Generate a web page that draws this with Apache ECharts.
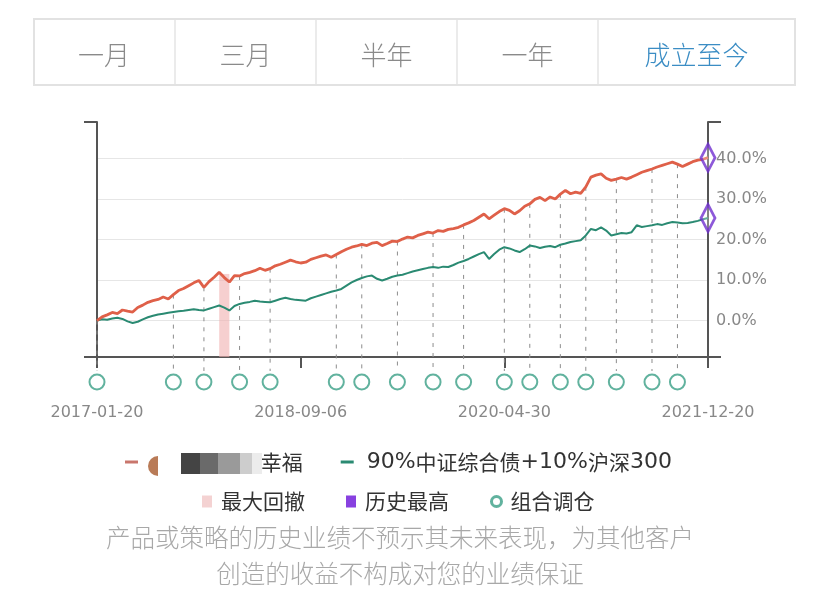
<!DOCTYPE html>
<html><head><meta charset="utf-8">
<script src="https://cdn.jsdelivr.net/npm/echarts@6/dist/echarts.min.js"></script>
<style>html,body{margin:0;padding:0;background:#fff}#c{width:828px;height:614px}</style>
</head><body><div id="c"></div><script>
// ---------- data ----------
const dates = [
'2017-01-20','2017-02-05','2017-02-20','2017-03-05','2017-03-20','2017-04-05','2017-04-20','2017-05-05','2017-05-20','2017-06-05',
'2017-06-20','2017-07-05','2017-07-20','2017-08-05','2017-08-20','2017-09-05','2017-09-20','2017-10-05','2017-10-20','2017-11-05',
'2017-11-20','2017-12-05','2017-12-20','2018-01-05','2018-01-20','2018-02-05','2018-02-20','2018-03-05','2018-03-20','2018-04-05',
'2018-04-20','2018-05-05','2018-05-20','2018-06-05','2018-06-20','2018-07-05','2018-07-20','2018-08-05','2018-08-20','2018-08-28',
'2018-09-06','2018-09-20','2018-10-05','2018-10-20','2018-11-05','2018-11-20','2018-12-05','2018-12-20','2019-01-05','2019-01-20',
'2019-02-05','2019-02-20','2019-03-05','2019-03-20','2019-04-05','2019-04-20','2019-05-05','2019-05-20','2019-06-05','2019-06-20',
'2019-07-05','2019-07-20','2019-08-05','2019-08-20','2019-09-05','2019-09-20','2019-10-05','2019-10-20','2019-11-05','2019-11-20',
'2019-12-05','2019-12-20','2020-01-05','2020-01-20','2020-02-05','2020-02-20','2020-03-05','2020-03-20','2020-04-05','2020-04-20',
'2020-04-30','2020-05-15','2020-06-01','2020-06-15','2020-07-01','2020-07-15','2020-08-01','2020-08-15','2020-09-01','2020-09-15',
'2020-10-01','2020-10-15','2020-11-01','2020-11-15','2020-12-01','2020-12-15','2021-01-04','2021-01-15','2021-02-01','2021-02-15',
'2021-03-01','2021-03-15','2021-04-01','2021-04-15','2021-05-06','2021-05-15','2021-06-01','2021-06-15','2021-07-01','2021-07-15',
'2021-08-02','2021-08-15','2021-09-01','2021-09-15','2021-10-08','2021-10-15','2021-11-01','2021-11-15','2021-12-01','2021-12-10',
'2021-12-20'];
const fundValues = [
0.0,0.9,1.4,2.0,1.7,2.6,2.3,2.1,3.2,3.8,
4.5,4.9,5.2,5.8,5.3,6.4,7.4,7.9,8.6,9.3,
9.9,8.2,9.6,10.7,11.9,10.6,9.5,11.1,11.0,11.6,
11.9,12.3,12.9,12.4,12.8,13.5,13.9,14.4,14.9,14.5,
14.2,14.4,15.1,15.5,15.9,16.2,15.6,16.3,17.0,17.6,
18.1,18.4,18.8,18.5,19.1,19.3,18.5,19.0,19.6,19.5,
20.1,20.6,20.4,21.0,21.4,21.8,21.6,22.2,22.0,22.5,
22.7,23.0,23.6,24.1,24.7,25.5,26.3,25.1,26.0,26.9,
27.6,27.2,26.3,27.1,28.2,28.8,29.9,30.4,29.6,30.5,
30.0,31.2,32.1,31.3,31.7,31.4,33.0,35.4,35.9,36.2,
35.1,34.6,34.9,35.3,34.9,35.4,36.0,36.6,37.0,37.4,
37.9,38.3,38.7,39.1,38.6,38.0,38.6,39.2,39.6,39.8,
40.2];
const benchValues = [
0.0,0.3,0.2,0.5,0.7,0.4,-0.2,-0.6,-0.3,0.3,
0.8,1.2,1.5,1.7,1.9,2.1,2.3,2.4,2.6,2.8,
2.6,2.5,2.9,3.3,3.7,3.2,2.5,3.6,4.1,4.4,
4.6,4.9,4.7,4.6,4.5,4.9,5.3,5.6,5.3,5.1,
5.0,4.9,5.5,5.9,6.3,6.7,7.1,7.4,7.8,8.6,
9.4,10.0,10.5,10.9,11.1,10.3,9.9,10.3,10.8,11.1,
11.3,11.7,12.1,12.4,12.7,13.0,13.2,13.0,13.3,13.2,
13.7,14.3,14.7,15.2,15.8,16.4,16.9,15.2,16.4,17.5,
18.1,17.8,17.3,16.9,17.6,18.5,18.3,17.9,18.2,18.4,
18.1,18.7,19.0,19.4,19.6,19.8,21.0,22.6,22.3,23.0,
22.2,21.0,21.3,21.6,21.5,21.8,23.5,23.1,23.3,23.5,
23.8,23.6,24.0,24.3,24.2,24.0,24.1,24.3,24.6,25.0,
25.3];
const rebalanceIdx = [0,15,21,28,34,47,52,59,66,72,80,85,91,96,102,109,114];
const labelIdx = [0,40,80,120];
const drawdownStart = 24, drawdownEnd = 26;
const FUND_NAME = '\u3000\u3000\u3000\u3000\u3000 幸福';
const BENCH_NAME = '90%中证综合债+10%沪深300';
const tabs = ['一月','三月','半年','一年','成立至今'];
const disclaimer = ['产品或策略的历史业绩不预示其未来表现，为其他客户','创造的收益不构成对您的业绩保证'];

// ---------- chart ----------
const FONT = '"Noto Sans CJK SC","Noto Sans",sans-serif';
const NUMFONT = '"DejaVu Sans",sans-serif';
const yMin = -9, yMax = 49;
const AX = '#555';
const chart = echarts.init(document.getElementById('c'));

const tabX = [33,175,316,457,598,795];
const graphics = [];
graphics.push({type:'rect',shape:{x:34,y:19,width:761,height:66},style:{fill:'#fff',stroke:'#e2e2e2',lineWidth:2},z:1});
for (let k=1;k<5;k++) graphics.push({type:'line',shape:{x1:tabX[k],y1:20,x2:tabX[k],y2:84},style:{stroke:'#e4e4e4',lineWidth:1.5},z:2});
tabs.forEach((t,k)=>{
  graphics.push({type:'text',x:(tabX[k]+tabX[k+1])/2,y:55,style:{text:t,fontSize:26,fontFamily:FONT,fontWeight:300,fill:k===4?'#3b8dc4':'#8a8a8a',align:'center',verticalAlign:'middle'},z:3});
});
disclaimer.forEach((t,k)=>{
  graphics.push({type:'text',x:400,y:538+k*36,style:{text:t,fontSize:24.5,fontFamily:FONT,fontWeight:300,fill:'#a8a8a8',align:'center',verticalAlign:'middle'},z:3});
});
// redaction blocks in the legend
graphics.push({type:'sector',shape:{cx:158,cy:466,r:10,startAngle:Math.PI/2,endAngle:Math.PI*1.5},style:{fill:'#b97b57'},z:5});
[['#444',181,19],['#6a6a6a',200,18],['#9a9a9a',218,22],['#cdcdcd',240,12],['#ececec',252,10]].forEach(b=>{
  graphics.push({type:'rect',shape:{x:b[1],y:453,width:b[2],height:21},style:{fill:b[0]},z:5});
});

const legendText = {fontSize:21,color:'#333',fontFamily:FONT,
  rich:{d:{fontSize:22,color:'#333',fontFamily:NUMFONT}}};
const option = {
  animation:false,
  backgroundColor:'#fff',
  textStyle:{fontFamily:FONT},
  graphic:graphics,
  grid:[{left:97,right:120,top:122,bottom:257},{left:97,right:120,top:372,height:20}],
  xAxis:[
    {type:'category',data:dates,boundaryGap:false,gridIndex:0,
     axisLine:{onZero:false,lineStyle:{color:AX,width:2}},
     axisTick:{interval:(i)=>labelIdx.includes(i),length:11,lineStyle:{color:AX,width:2}},
     axisLabel:{interval:(i)=>labelIdx.includes(i),margin:48,fontSize:16,color:'#888',fontFamily:NUMFONT},
     splitLine:{show:false}},
    {type:'category',data:dates,boundaryGap:false,gridIndex:1,show:false}
  ],
  yAxis:[
    {type:'value',gridIndex:0,position:'left',min:yMin,max:yMax,interval:yMax-yMin,
     axisLine:{show:true,lineStyle:{color:AX,width:2}},axisTick:{show:true,length:13,lineStyle:{color:AX,width:2}},
     axisLabel:{show:false},splitLine:{show:false}},
    {type:'value',gridIndex:0,position:'right',min:yMin,max:yMax,splitNumber:5,
     axisLine:{show:false},axisTick:{show:false},
     axisLabel:{showMinLabel:false,showMaxLabel:false,formatter:(v)=>v.toFixed(1)+'%',fontSize:16,color:'#888',margin:8,fontFamily:NUMFONT},
     splitLine:{show:true,showMinLine:false,showMaxLine:false,lineStyle:{color:'#e6e6e6',width:1}}},
    {type:'value',gridIndex:0,position:'right',min:yMin,max:yMax,interval:yMax-yMin,
     axisLine:{show:true,lineStyle:{color:AX,width:2}},axisTick:{show:true,length:13,lineStyle:{color:AX,width:2}},
     axisLabel:{show:false},splitLine:{show:false}},
    {type:'value',gridIndex:1,min:-1,max:1,show:false}
  ],
  legend:[
    {left:120,top:446,icon:'rect',itemWidth:13,itemHeight:3,itemGap:38,
     textStyle:Object.assign({},legendText,{padding:[0,0,0,8]}),
     formatter:(n)=>n.replace(/([0-9%+]+)/g,'{d|$1}'),
     data:[{name:FUND_NAME,itemStyle:{color:'#c9766c'}},{name:BENCH_NAME}]},
    {left:197,top:486,itemWidth:10,itemHeight:12,itemGap:41,
     textStyle:Object.assign({},legendText,{padding:[0,0,0,4]}),
     data:[{name:'最大回撤',icon:'rect'},
           {name:'历史最高',icon:'rect',itemStyle:{color:'#6a12d8',borderWidth:0}},
           {name:'组合调仓',icon:'circle',itemStyle:{color:'#fff',borderColor:'#3a9f86',borderWidth:3}}]}
  ],
  series:[
    {name:'组合调仓线',type:'custom',xAxisIndex:0,yAxisIndex:0,clip:false,silent:true,z:1,
     data:rebalanceIdx.map(i=>[i,fundValues[i]]),
     renderItem:(params,api)=>{
       const p1 = api.coord([api.value(0),api.value(1)]);
       const p2 = api.coord([api.value(0),yMin]);
       return {type:'line',shape:{x1:p1[0],y1:p1[1],x2:p2[0],y2:p2[1]+14},style:{stroke:'#8c8c8c',lineWidth:1,lineDash:[4,6]}};
     }},
    {name:'最大回撤',type:'line',xAxisIndex:0,yAxisIndex:0,data:[],itemStyle:{color:'#f4d2d2'},
     markArea:{silent:true,itemStyle:{color:'rgba(240,175,175,0.6)'},
       data:[[{xAxis:dates[drawdownStart],yAxis:yMin},{xAxis:dates[drawdownEnd],yAxis:fundValues[drawdownStart]-0.4}]]}},
    {name:BENCH_NAME,type:'line',xAxisIndex:0,yAxisIndex:0,data:benchValues,showSymbol:false,z:3,
     itemStyle:{color:'#2a8a72'},lineStyle:{color:'#2a8a72',width:2}},
    {name:FUND_NAME,type:'line',xAxisIndex:0,yAxisIndex:0,data:fundValues,showSymbol:false,z:4,
     itemStyle:{color:'#df6049'},lineStyle:{color:'#df6049',width:2.8}},
    {name:'历史最高',type:'scatter',xAxisIndex:0,yAxisIndex:0,z:6,
     data:[[120,fundValues[120]],[120,benchValues[120]]],
     symbol:'diamond',symbolSize:[14,27],
     itemStyle:{color:'rgba(255,255,255,0.35)',borderColor:'#7030d0',borderWidth:3}},
    {name:'组合调仓',type:'scatter',xAxisIndex:1,yAxisIndex:3,z:5,
     data:rebalanceIdx.map(i=>[i,0]),
     symbol:'emptyCircle',symbolSize:15,
     itemStyle:{color:'#3a9f86',borderWidth:3.5}}
  ]
};
chart.setOption(option);
</script></body></html>
